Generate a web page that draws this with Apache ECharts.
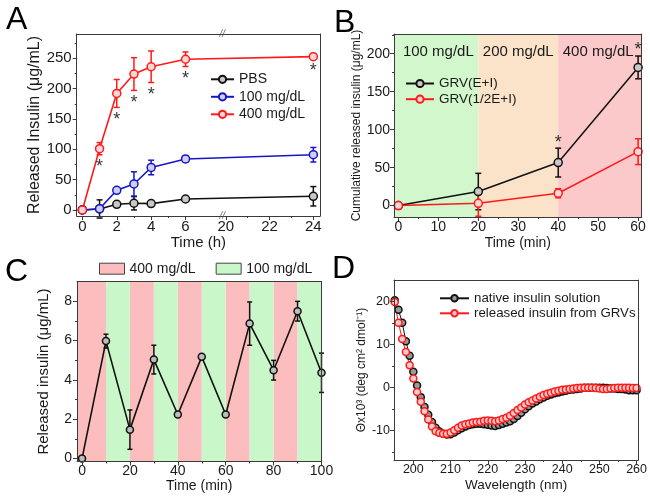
<!DOCTYPE html>
<html><head><meta charset="utf-8">
<script src="https://cdn.jsdelivr.net/npm/echarts@6/dist/echarts.min.js"></script>
<style>html,body{margin:0;padding:0;background:#fff}#c{width:650px;height:496px}</style>
</head><body><div id="c"></div>
<script>
// ---------- Panel A data ----------
const aTime = [0, 1, 2, 3, 4, 6, 24];
const aPBS = [0, 1.6, 9.3, 11, 10.4, 18, 22.5];
const aPBSErr = [0, 15, 2, 11, 3, 2, 16];
const a100 = [0, 2, 32.4, 42.8, 70, 84, 91];
const a100Err = [0, 3, 3, 20, 12, 5, 12];
const a400 = [0, 101, 192, 224, 236, 248.4, 252.7];
const a400Err = [0, 10, 23, 27, 26, 12, 3];
const aStarTimes = [1, 2, 3, 4, 6, 24];
const aXTickLabels = [0, 2, 4, 6, 20, 22, 24];
const aXMinorTicks = [1, 3, 5, 21, 23];
const aYTickLabels = [0, 50, 100, 150, 200, 250];
const aYMinorTicks = [25, 75, 125, 175, 225, 275];

// ---------- Panel B data ----------
const bTime = [0, 20, 40, 60];
const bFull = [0, 18.5, 56.7, 182];
const bFullErr = [0, 24, 19, 15];
const bHalf = [0, 3, 16.3, 71];
const bHalfErr = [0, 17, 6, 17];
const bStarTimes = [40, 60];
const bPhaseEdges = [0, 20, 40, 60];
const bPhaseLabels = ['100 mg/dL', '200 mg/dL', '400 mg/dL'];
const bXTickLabels = [0, 10, 20, 30, 40, 50, 60];
const bXMinorTicks = [5, 15, 25, 35, 45, 55];
const bYTickLabels = [0, 50, 100, 150, 200];
const bYMinorTicks = [25, 75, 125, 175, 225];

// ---------- Panel C data ----------
const cTime = [0, 10, 20, 30, 40, 50, 60, 70, 80, 90, 100];
const cInsulin = [0, 5.97, 1.47, 5.03, 2.24, 5.17, 2.24, 6.86, 4.49, 7.49, 4.36];
const cErr = [0, 0.35, 1.0, 0.73, 0.1, 0.06, 0.06, 1.1, 0.5, 0.5, 1.0];
const cHighBands = [[0, 10], [20, 30], [40, 50], [60, 70], [80, 90]];
const cLowBands = [[10, 20], [30, 40], [50, 60], [70, 80], [90, 100]];
const cXTickLabels = [0, 20, 40, 60, 80, 100];
const cXMinorTicks = [10, 30, 50, 70, 90];
const cYTickLabels = [0, 2, 4, 6, 8];
const cYMinorTicks = [1, 3, 5, 7];

// ---------- Panel D data ----------
const dWavelength = [195,196,197,198,199,200,201,202,203,204,205,206,207,208,209,210,211,212,213,214,215,216,217,218,219,220,221,222,223,224,225,226,227,228,229,230,231,232,233,234,235,236,237,238,239,240,241,242,243,244,245,246,247,248,249,250,251,252,253,254,255,256,257,258,259,260];
const dNative = [20.3,18.1,15.1,10.8,7.4,3.7,0.5,-2.2,-4.5,-6.3,-8.0,-9.3,-10.2,-10.7,-10.9,-10.8,-10.4,-9.9,-9.4,-9.0,-8.7,-8.5,-8.4,-8.4,-8.5,-8.6,-8.8,-8.9,-8.7,-8.4,-8.1,-7.8,-7.3,-6.6,-5.8,-5.0,-4.3,-3.7,-3.2,-2.7,-2.3,-1.9,-1.6,-1.3,-1.1,-0.9,-0.7,-0.5,-0.4,-0.3,-0.2,0,0,0,0,0,0,-0.1,-0.2,-0.2,-0.3,-0.3,-0.4,-0.6,-0.6,-0.6];
const dReleased = [19.9,15.1,11.3,8.3,5.2,2.1,-1.0,-3.3,-5.5,-7.4,-9.0,-10.1,-10.5,-10.7,-10.7,-10.4,-9.9,-9.3,-8.8,-8.5,-8.3,-8.1,-8.0,-7.9,-7.7,-7.6,-7.7,-7.8,-7.6,-7.3,-7.0,-6.5,-5.9,-5.2,-4.6,-3.9,-3.4,-3.0,-2.5,-2.1,-1.7,-1.4,-1.2,-0.9,-0.7,-0.5,-0.4,-0.3,-0.2,-0.1,0,0,0,0,-0.1,-0.2,-0.3,-0.3,-0.2,-0.1,0,0,0,0,-0.1,-0.1];
const dXTickLabels = [200, 210, 220, 230, 240, 250, 260];
const dXMinorTicks = [205, 215, 225, 235, 245, 255];
const dYTickLabels = [-10, 0, 10, 20];
const dYMinorTicks = [-15, -5, 5, 15];

// ---------- styling ----------
const FONT = '"Liberation Sans", Arial, sans-serif';
const AX = '#3a3a3a';
const TXT = '#1a1a1a';
const RED = '#ff1a1a', BLUE = '#1616c8', BLACK = '#111111';

// broken time axis of panel A (hours -> axis units)
function aPos(t) { return t <= 8 ? t : 8.34 + (t - 20) * 1.273; }
function aInv(u) { return u <= 8.2 ? u : 20 + (u - 8.34) / 1.273; }

const grids = [
  { left: 76.7, top: 34, width: 243.3, height: 182 },
  { left: 394, top: 34, width: 247.7, height: 183 },
  { left: 77, top: 281.5, width: 244.5, height: 180 },
  { left: 394, top: 280, width: 246.5, height: 180 }
];

function axisSet(dim, g, cfg) {
  const pos = dim === 'x' ? ['bottom', 'top'] : ['left', 'right'];
  const common = { type: 'value', gridIndex: g, min: cfg.min, max: cfg.max, z: 10, splitLine: { show: false } };
  const label = { show: true, customValues: cfg.majors, fontSize: cfg.fontSize, fontFamily: FONT, color: TXT, margin: cfg.labelMargin, hideOverlap: false };
  if (cfg.fmt) label.formatter = cfg.fmt;
  return [
    Object.assign({}, common, {
      position: pos[0],
      axisLine: { show: true, onZero: false, lineStyle: { color: AX, width: 1 } },
      axisTick: { show: true, customValues: cfg.majors, length: 4, lineStyle: { color: AX } },
      axisLabel: label,
      name: cfg.name, nameLocation: 'middle', nameGap: cfg.nameGap,
      nameTextStyle: { fontSize: cfg.nameSize, fontFamily: FONT, color: TXT }
    }),
    Object.assign({}, common, {
      position: pos[0],
      axisLine: { show: false, onZero: false },
      axisTick: { show: true, customValues: cfg.minors, length: 2, lineStyle: { color: AX } },
      axisLabel: { show: false }
    }),
    Object.assign({}, common, {
      position: pos[1],
      axisLine: { show: true, onZero: false, lineStyle: { color: AX, width: 1 } },
      axisTick: { show: false }, axisLabel: { show: false }
    })
  ];
}

const xAxes = [].concat(
  axisSet('x', 0, { min: -0.33, max: 13.82, majors: aXTickLabels.map(aPos), minors: aXMinorTicks.map(aPos),
    fmt: v => String(Math.round(aInv(v))), fontSize: 15, labelMargin: 3, name: 'Time (h)', nameGap: 19, nameSize: 15 }),
  axisSet('x', 1, { min: -1.1, max: 60.9, majors: bXTickLabels, minors: bXMinorTicks,
    fontSize: 14, labelMargin: 3, name: 'Time (min)', nameGap: 19, nameSize: 14 }),
  axisSet('x', 2, { min: -2.1, max: 100, majors: cXTickLabels, minors: cXMinorTicks,
    fontSize: 14, labelMargin: 3, name: 'Time (min)', nameGap: 17, nameSize: 14 }),
  axisSet('x', 3, { min: 194.8, max: 260.4, majors: dXTickLabels, minors: dXMinorTicks,
    fontSize: 12.5, labelMargin: 3, name: 'Wavelength (nm)', nameGap: 18, nameSize: 13.5 })
);
const yAxes = [].concat(
  axisSet('y', 0, { min: -10, max: 290, majors: aYTickLabels, minors: aYMinorTicks,
    fontSize: 15, labelMargin: 5, name: 'Released Insulin (\u03bcg/mL)', nameGap: 30, nameSize: 16 }),
  axisSet('y', 1, { min: -15, max: 226, majors: bYTickLabels, minors: bYMinorTicks,
    fontSize: 14, labelMargin: 4, name: 'Cumulative released insulin (\u03bcg/mL)', nameGap: 28, nameSize: 12 }),
  axisSet('y', 2, { min: -0.15, max: 9, majors: cYTickLabels, minors: cYMinorTicks,
    fontSize: 14, labelMargin: 5, name: 'Released insulin (\u03bcg/mL)', nameGap: 26, nameSize: 15 }),
  axisSet('y', 3, { min: -16.8, max: 25, majors: dYTickLabels, minors: dYMinorTicks,
    fontSize: 12.5, labelMargin: 4, name: '\u0398x10\u00b3 (deg cm\u00b2 dmol\u207b\u00b9)', nameGap: 22, nameSize: 12 })
);

function lineSeries(name, g, xs, ys, color, fill, size, lw) {
  return {
    type: 'line', name, xAxisIndex: 3 * g, yAxisIndex: 3 * g,
    data: xs.map((x, i) => [x, ys[i]]),
    symbol: 'circle', symbolSize: size,
    itemStyle: { color: fill, borderColor: color, borderWidth: 1.5 },
    lineStyle: { color, width: lw }, z: 5
  };
}

function errSeries(g, xs, ys, es, color, cap) {
  return {
    type: 'custom', xAxisIndex: 3 * g, yAxisIndex: 3 * g, silent: true, z: 4,
    data: xs.map((x, i) => [x, ys[i], es[i]]),
    renderItem(params, api) {
      const x = api.value(0), y = api.value(1), e = api.value(2);
      if (!e) return null;
      const lo = api.coord([x, y - e]), hi = api.coord([x, y + e]);
      const st = { stroke: color, lineWidth: 1.5 };
      return { type: 'group', children: [
        { type: 'line', shape: { x1: lo[0], y1: lo[1], x2: hi[0], y2: hi[1] }, style: st },
        { type: 'line', shape: { x1: lo[0] - cap, y1: lo[1], x2: lo[0] + cap, y2: lo[1] }, style: st },
        { type: 'line', shape: { x1: hi[0] - cap, y1: hi[1], x2: hi[0] + cap, y2: hi[1] }, style: st }
      ] };
    }
  };
}

function starSeries(g, pts, pos, dist) {
  return {
    type: 'scatter', xAxisIndex: 3 * g, yAxisIndex: 3 * g, silent: true, z: 6,
    data: pts, symbolSize: 1, itemStyle: { color: 'rgba(0,0,0,0)' },
    label: { show: true, formatter: '*', position: pos, distance: dist, fontSize: 18, fontFamily: FONT, color: '#000' }
  };
}

function bandSeries(name, g, bands, colors, first, last, labels) {
  return {
    type: 'custom', name, xAxisIndex: 3 * g, yAxisIndex: 3 * g, silent: true, z: 1,
    itemStyle: { color: colors[0] },
    data: bands.map(b => [b[0], b[1]]),
    renderItem(params, api) {
      const cs = params.coordSys;
      const s = api.value(0), e = api.value(1);
      let x0 = api.coord([s, 0])[0], x1 = api.coord([e, 0])[0];
      const mid = (x0 + x1) / 2;
      if (s <= first) x0 = cs.x;
      if (e >= last) x1 = cs.x + cs.width;
      x0 = Math.max(cs.x, x0); x1 = Math.min(cs.x + cs.width, x1);
      const children = [{ type: 'rect', shape: { x: x0, y: cs.y, width: x1 - x0, height: cs.height },
        style: { fill: colors[params.dataIndex % colors.length] } }];
      if (labels) {
        children.push({ type: 'text', x: mid, y: cs.y + 18,
          style: { text: labels[params.dataIndex], fill: TXT, fontSize: 15, fontFamily: FONT, align: 'center', verticalAlign: 'middle' } });
      }
      return { type: 'group', children };
    }
  };
}

const aX = aTime.map(aPos);
const aStarPts = aStarTimes.map(t => { const i = aTime.indexOf(t); return [aPos(t), a400[i] - a400Err[i]]; });
const bStarPts = bStarTimes.map(t => { const i = bTime.indexOf(t); return [t, bFull[i] + bFullErr[i]]; });
const bBands = bPhaseEdges.slice(0, -1).map((e, i) => [e, bPhaseEdges[i + 1]]);

const series = [
  // Panel A
  errSeries(0, aX, aPBS, aPBSErr, BLACK, 3),
  errSeries(0, aX, a100, a100Err, BLUE, 3),
  errSeries(0, aX, a400, a400Err, RED, 3),
  lineSeries('PBS', 0, aX, aPBS, BLACK, '#c8c8c8', 8, 1.6),
  lineSeries('100 mg/dL', 0, aX, a100, BLUE, '#cfcff5', 8, 1.6),
  lineSeries('400 mg/dL', 0, aX, a400, RED, '#ffd6d6', 8, 1.6),
  starSeries(0, aStarPts, 'bottom', 3),
  {
    type: 'scatter', xAxisIndex: 0, yAxisIndex: 0, silent: true, z: 11, symbolSize: 1,
    itemStyle: { color: 'rgba(0,0,0,0)' },
    data: [[8.14, 290], [8.14, -10]],
    label: { show: true, formatter: '//', position: 'inside', fontSize: 10, fontFamily: FONT, color: '#444', fontStyle: 'italic' }
  },
  // Panel B
  bandSeries('bbands', 1, bBands, ['#d3f7cc', '#fbe3c9', '#fbc9c9'], bPhaseEdges[0], bPhaseEdges[bPhaseEdges.length - 1], bPhaseLabels),
  errSeries(1, bTime, bFull, bFullErr, BLACK, 3),
  errSeries(1, bTime, bHalf, bHalfErr, RED, 3),
  lineSeries('GRV(E+I)', 1, bTime, bFull, BLACK, '#c8c8c8', 8, 1.5),
  lineSeries('GRV(1/2E+I)', 1, bTime, bHalf, RED, '#ffd6d6', 8, 1.5),
  starSeries(1, bStarPts, 'top', -4),
  // Panel C
  bandSeries('c400', 2, cHighBands, ['#fbbdbd'], cTime[0], cTime[cTime.length - 1], null),
  bandSeries('c100', 2, cLowBands, ['#c9f7c9'], cTime[0], cTime[cTime.length - 1], null),
  errSeries(2, cTime, cInsulin, cErr, BLACK, 2.5),
  lineSeries('cline', 2, cTime, cInsulin, BLACK, '#bdbdbd', 7, 1.6),
  // Panel D
  lineSeries('native insulin solution', 3, dWavelength, dNative, BLACK, '#9a9a9a', 7, 1),
  lineSeries('released insulin from GRVs', 3, dWavelength, dReleased, RED, '#ffcaca', 7, 1)
];

const legendText = { fontSize: 14, fontFamily: FONT, color: TXT };
const legends = [
  { data: ['PBS', '100 mg/dL', '400 mg/dL'], orient: 'vertical', left: 210, top: 72.3, padding: 0,
    itemWidth: 23, itemHeight: 9, itemGap: 3.5, textStyle: legendText, selectedMode: false },
  { data: ['GRV(E+I)', 'GRV(1/2E+I)'], orient: 'vertical', left: 405, top: 76.5, padding: 0,
    itemWidth: 28, itemHeight: 9, itemGap: 1.7, textStyle: Object.assign({}, legendText, { fontSize: 13.5 }), selectedMode: false },
  { data: ['c400', 'c100'], orient: 'horizontal', left: 99, top: 261.7, padding: 0,
    itemWidth: 25, itemHeight: 11, itemGap: 20, icon: 'rect', selectedMode: false,
    itemStyle: { borderColor: '#444', borderWidth: 1 },
    formatter: n => ({ c400: '400 mg/dL', c100: '100 mg/dL' })[n] || n, textStyle: legendText },
  { data: ['native insulin solution', 'released insulin from GRVs'], orient: 'vertical', left: 439, top: 291.8, padding: 0,
    itemWidth: 29, itemHeight: 8, itemGap: 2, textStyle: Object.assign({}, legendText, { fontSize: 13.3 }), selectedMode: false }
];

const letters = [['A', 6, 4], ['B', 334, 7], ['C', 5, 256], ['D', 332, 253]];
const graphic = letters.map(l => ({
  type: 'text', x: l[1], y: l[2], z: 20,
  style: { text: l[0], fontSize: 32, fontFamily: FONT, fill: '#000', verticalAlign: 'top' }
}));

const chart = echarts.init(document.getElementById('c'), null, { renderer: 'canvas' });
chart.setOption({
  animation: false,
  backgroundColor: '#fff',
  grid: grids,
  xAxis: xAxes,
  yAxis: yAxes,
  legend: legends,
  graphic,
  series
});
</script>
</body></html>
